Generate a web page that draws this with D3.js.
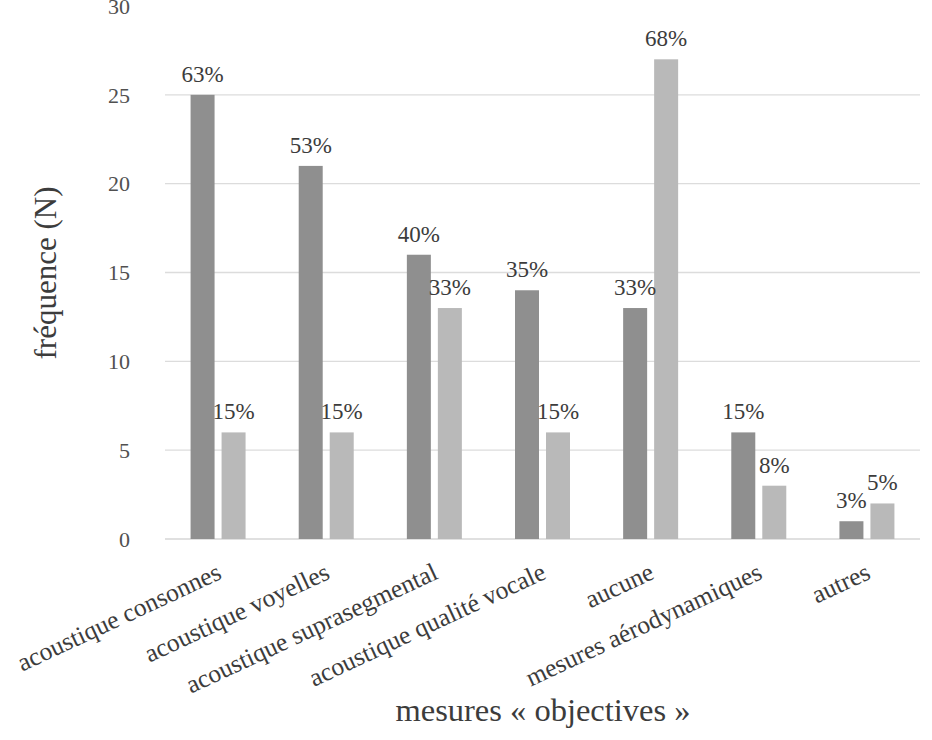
<!DOCTYPE html>
<html>
<head>
<meta charset="utf-8">
<script src="https://cdn.jsdelivr.net/npm/d3@7"></script>
<style>
  html, body { margin: 0; padding: 0; background: #ffffff; }
  svg { display: block; }
</style>
</head>
<body>
<svg id="chart" width="932" height="740" font-family="'Liberation Serif', 'DejaVu Serif', serif"></svg>
<script>
const categories = [
  "acoustique consonnes",
  "acoustique voyelles",
  "acoustique suprasegmental",
  "acoustique qualité vocale",
  "aucune",
  "mesures aérodynamiques",
  "autres"
];
const seriesNames = ["groupe1", "groupe2"];
const seriesDark = [25, 21, 16, 14, 13, 6, 1];
const seriesLight = [6, 6, 13, 6, 27, 3, 2];
const labelsDark = ["63%", "53%", "40%", "35%", "33%", "15%", "3%"];
const labelsLight = ["15%", "15%", "33%", "15%", "68%", "8%", "5%"];
const yTicks = [0, 5, 10, 15, 20, 25, 30];
const yTitle = "fréquence (N)";
const xTitle = "mesures « objectives »";

const colors = { groupe1: "#8f8f8f", groupe2: "#b9b9b9" };
const FONT = "'Liberation Serif', 'DejaVu Serif', serif";

const svg = d3.select("#chart");

const x = d3.scaleBand().domain(categories).range([164, 921]).padding(0);
const xs = d3.scaleBand().domain(seriesNames).range([0, 55]).paddingInner(0.226);
const y = d3.scaleLinear().domain([0, 30]).range([539, 6]);

// gridlines
svg.append("g")
  .selectAll("line")
  .data(yTicks.filter(t => t > 0 && t < 30))
  .join("line")
  .attr("x1", 165).attr("x2", 920)
  .attr("y1", d => y(d)).attr("y2", d => y(d))
  .attr("stroke", "#dcdcdc").attr("stroke-width", 1.3);

// baseline
svg.append("line")
  .attr("x1", 165).attr("x2", 920)
  .attr("y1", y(0)).attr("y2", y(0))
  .attr("stroke", "#d6d6d6").attr("stroke-width", 1.5);

// y tick labels
svg.append("g")
  .selectAll("text")
  .data(yTicks)
  .join("text")
  .attr("x", 130)
  .attr("y", d => y(d))
  .attr("dy", "0.35em")
  .attr("text-anchor", "end")
  .attr("fill", "#505050")
  .attr("font-family", FONT)
  .attr("font-size", 22)
  .text(d => d);

const rows = categories.map((c, i) => ({
  cat: c,
  vals: [
    { s: "groupe1", v: seriesDark[i], lab: labelsDark[i] },
    { s: "groupe2", v: seriesLight[i], lab: labelsLight[i] }
  ]
}));

const groups = svg.append("g")
  .selectAll("g")
  .data(rows)
  .join("g")
  .attr("transform", d => `translate(${x(d.cat) + x.bandwidth() / 2 - 27.5},0)`);

groups.selectAll("rect")
  .data(d => d.vals)
  .join("rect")
  .attr("x", d => xs(d.s))
  .attr("width", xs.bandwidth())
  .attr("y", d => y(d.v))
  .attr("height", d => y(0) - y(d.v))
  .attr("fill", d => colors[d.s]);

groups.selectAll("text")
  .data(d => d.vals)
  .join("text")
  .attr("x", d => xs(d.s) + xs.bandwidth() / 2)
  .attr("y", d => y(d.v) - 13)
  .attr("text-anchor", "middle")
  .attr("fill", "#3c3c3c")
  .attr("font-family", FONT)
  .attr("font-size", 23)
  .text(d => d.lab);

// x tick labels (rotated)
svg.append("g")
  .selectAll("text")
  .data(categories)
  .join("text")
  .attr("text-anchor", "end")
  .attr("transform", d => `translate(${x(d) + x.bandwidth() / 2 + 5},${578}) rotate(-25)`)
  .attr("fill", "#3c3c3c")
  .attr("font-family", FONT)
  .attr("font-size", 25.5)
  .text(d => d);

// axis titles
svg.append("text")
  .attr("transform", `translate(56,273) rotate(-90)`)
  .attr("text-anchor", "middle")
  .attr("fill", "#3c3c3c")
  .attr("font-family", FONT)
  .attr("font-size", 31)
  .text(yTitle);

svg.append("text")
  .attr("x", 543)
  .attr("y", 721)
  .attr("text-anchor", "middle")
  .attr("fill", "#3c3c3c")
  .attr("font-family", FONT)
  .attr("font-size", 32.5)
  .text(xTitle);
</script>
</body>
</html>
